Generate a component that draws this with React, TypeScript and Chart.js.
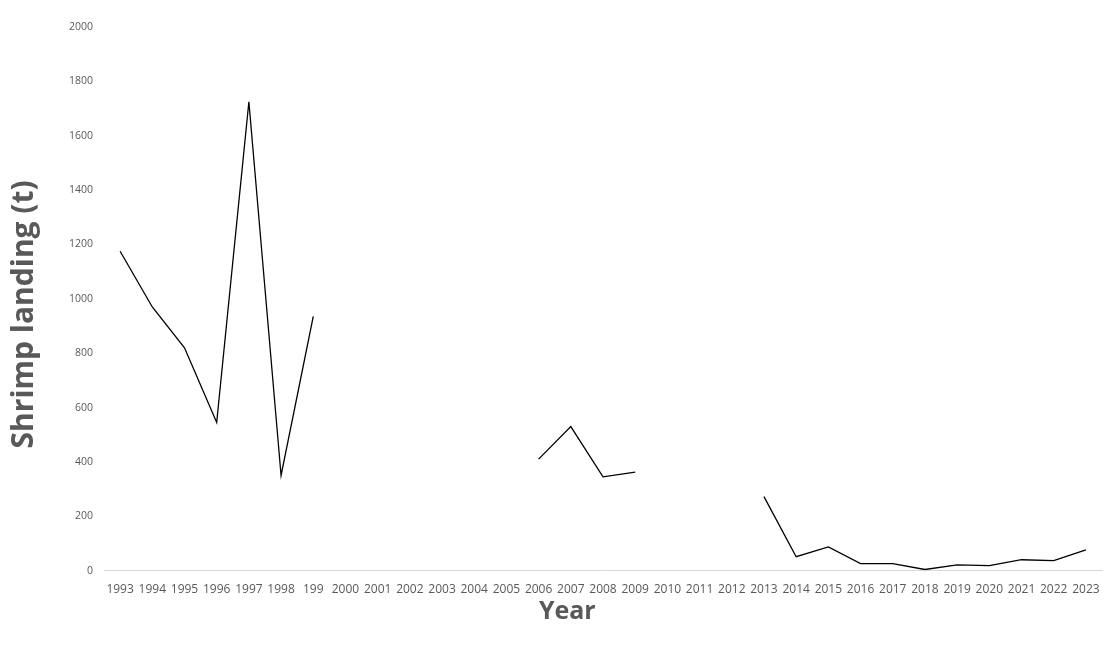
import React, { useEffect, useRef } from "react";
import { Chart, registerables } from "chart.js";

Chart.register(...registerables);

const years: string[] = [
  "1993", "1994", "1995", "1996", "1997", "1998", "199", "2000", "2001", "2002",
  "2003", "2004", "2005", "2006", "2007", "2008", "2009", "2010", "2011", "2012",
  "2013", "2014", "2015", "2016", "2017", "2018", "2019", "2020", "2021", "2022", "2023",
];

const landings: (number | null)[] = [
  1175, 970, 820, 545, 1725, 350, 935, null, null, null,
  null, null, null, 410, 530, 345, 362, null, null, null,
  272, 51, 87, 26, 26, 4, 21, 18, 40, 37, 76,
];

const yTitle = "Shrimp landing (t)";
const xTitle = "Year";

export default function App() {
  const ref = useRef<HTMLCanvasElement | null>(null);
  useEffect(() => {
    if (!ref.current) return;
    const chart = new Chart(ref.current, {
      type: "line",
      data: {
        labels: years,
        datasets: [
          {
            data: landings,
            borderColor: "#000000",
            borderWidth: 1.3,
            pointRadius: 0,
            spanGaps: false,
            tension: 0,
            fill: false,
          },
        ],
      },
      options: {
        animation: false,
        responsive: false,
        maintainAspectRatio: false,
        layout: { padding: { top: 27, right: 18, bottom: 21, left: 6 } },
        plugins: { legend: { display: false }, tooltip: { enabled: false } },
        scales: {
          x: {
            offset: true,
            grid: { display: false, drawTicks: false },
            border: { display: true, color: "#d9d9d9", width: 1 },
            ticks: {
              color: "#595959",
              font: { family: "Open Sans", size: 12 },
              autoSkip: false,
              maxRotation: 0,
              padding: 12,
            },
            title: {
              display: true,
              text: xTitle + "           ",
              color: "#595959",
              font: { family: "Open Sans", size: 25, weight: "bold" },
              padding: { top: -12, bottom: 0 },
            },
          },
          y: {
            min: 0,
            max: 2000,
            grid: { display: false, drawTicks: false },
            border: { display: false },
            ticks: {
              stepSize: 200,
              color: "#595959",
              font: { family: "Open Sans", size: 10.5 },
              padding: 11,
              callback: (v: any) => String(v),
            },
            title: {
              display: true,
              text: yTitle + "    ",
              color: "#595959",
              font: { family: "Open Sans", size: 30, weight: "bold" },
              padding: { top: 0, bottom: 16 },
            },
          },
        },
      },
    });
    return () => chart.destroy();
  }, []);
  return (
    <div style={{ position: "absolute", left: 0, top: 0, width: 1120, height: 648, background: "#fff" }}>
      <canvas ref={ref} width={1120} height={648} style={{ display: "block" }} />
    </div>
  );
}
